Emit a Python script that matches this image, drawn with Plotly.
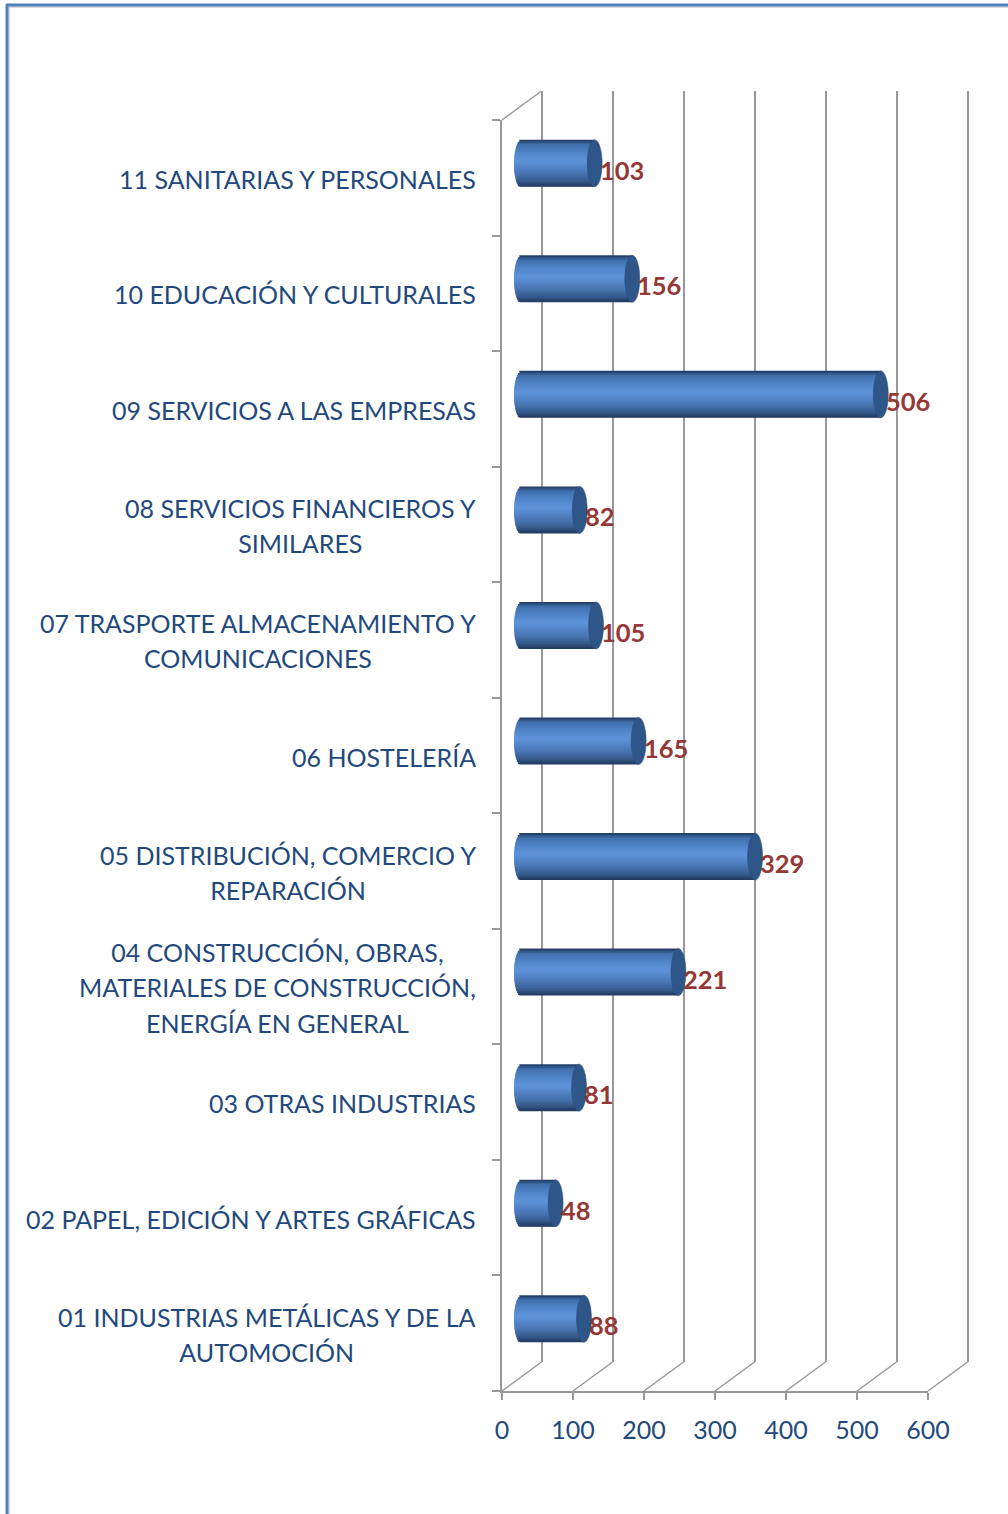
import plotly.graph_objects as go
import math

W, H = 1008, 1514
categories = [
    "01 INDUSTRIAS METÁLICAS Y DE LA<br>AUTOMOCIÓN",
    "02 PAPEL, EDICIÓN Y ARTES GRÁFICAS",
    "03 OTRAS INDUSTRIAS",
    "04 CONSTRUCCIÓN, OBRAS,<br>MATERIALES DE CONSTRUCCIÓN,<br>ENERGÍA EN GENERAL",
    "05 DISTRIBUCIÓN, COMERCIO Y<br>REPARACIÓN",
    "06 HOSTELERÍA",
    "07 TRASPORTE ALMACENAMIENTO Y<br>COMUNICACIONES",
    "08 SERVICIOS FINANCIEROS Y<br>SIMILARES",
    "09 SERVICIOS A LAS EMPRESAS",
    "10 EDUCACIÓN Y CULTURALES",
    "11 SANITARIAS Y PERSONALES",
]
values = [88, 48, 81, 221, 329, 165, 105, 82, 506, 156, 103]
x_ticks = [0, 100, 200, 300, 400, 500, 600]

TEXT = "#1F497D"
LABEL = "#953735"
GRID = "#989898"
FONT = "Lato"
LABEL_PX = 25.0
LINE_PX = 27.3

X0, X1 = 502.0, 928.0
Y_TOP, Y_BOT = 120.0, 1391.0
DX, DY = 39.5, 29.0
PXU = (X1 - X0) / 600.0
CX, CY = 19.5, 14.5
BAR_H = 47.0
RX = 7.5

def dom_x(a, b):
    return [a / W, b / W]

def dom_y(top, bot):
    return [(H - bot) / H, (H - top) / H]

grad_stops = [
    (0.00, (31, 53, 88)), (0.03, (40, 70, 114)), (0.10, (63, 111, 172)),
    (0.30, (83, 135, 204)), (0.45, (95, 147, 217)), (0.60, (82, 131, 198)),
    (0.75, (69, 112, 171)), (0.88, (53, 90, 140)), (0.96, (39, 67, 108)), (1.00, (31, 53, 88)),
]

def grad(t):
    t = 1 - t
    for (a, ca), (b, cb) in zip(grad_stops, grad_stops[1:]):
        if a <= t <= b:
            f = (t - a) / (b - a)
            return "rgb(%d,%d,%d)" % tuple(round(p + (q - p) * f) for p, q in zip(ca, cb))
    return "rgb(31,53,88)"

fig = go.Figure()

fig.add_trace(go.Scatter(x=[0], y=[categories[0]], mode="markers", marker_opacity=0,
                         xaxis="x", yaxis="y", showlegend=False, hoverinfo="skip"))

n_bands = 23
cat_px = (Y_BOT - Y_TOP) / len(categories)
w_cat = BAR_H / cat_px
rx_u = RX / PXU
overlap = 1.5 / cat_px
for i in range(n_bands - 1, -1, -1):
    t0 = i / n_bands
    mid = (i + 0.5) / n_bands
    s = math.sqrt(max(0.0, 1 - (2 * mid - 1) ** 2))
    b = -rx_u * s
    ov = overlap if i > 0 else 0
    fig.add_trace(go.Bar(
        x=[v - b for v in values], y=categories, base=b, orientation="h",
        width=w_cat / n_bands + ov, offset=-w_cat / 2 + t0 * w_cat - ov,
        marker=dict(color=grad(mid), line_width=0),
        xaxis="x2", yaxis="y2", showlegend=False, hoverinfo="skip",
    ))

fig.add_trace(go.Scatter(x=[0], y=[categories[0]], mode="markers", marker_opacity=0,
                         xaxis="x3", yaxis="y3", showlegend=False, hoverinfo="skip"))

shapes = []
shapes.append(dict(type="line", xref="paper", yref="paper", x0=9 / W, x1=1, y0=1 - 7 / H, y1=1 - 7 / H,
                   line=dict(color="#B4B4B4", width=1), layer="below"))
shapes.append(dict(type="line", xref="paper", yref="paper", x0=9 / W, x1=9 / W, y0=0, y1=1 - 7 / H,
                   line=dict(color="#B4B4B4", width=1), layer="below"))
shapes.append(dict(type="line", xref="paper", yref="paper", x0=6 / W, x1=1, y0=1 - 5 / H, y1=1 - 5 / H,
                   line=dict(color="#4F81BD", width=3), layer="below"))
shapes.append(dict(type="line", xref="paper", yref="paper", x0=7 / W, x1=7 / W, y0=0, y1=1 - 4 / H,
                   line=dict(color="#4F81BD", width=3), layer="below"))
# x2 spans the whole page, so the floor diagonals are anchored there (tick value shifted by the bar-plane offset)
for t in x_ticks:
    shapes.append(dict(type="line", xref="x2", yref="paper", xsizemode="pixel", ysizemode="pixel",
                       xanchor=t - CX / PXU, yanchor=(H - Y_BOT) / H, x0=0, x1=DX, y0=0, y1=DY,
                       line=dict(color=GRID, width=1.5), layer="below"))
shapes.append(dict(type="line", xref="x2", yref="paper", xsizemode="pixel", ysizemode="pixel",
                   xanchor=-CX / PXU, yanchor=(H - Y_TOP) / H, x0=0, x1=DX, y0=0, y1=DY,
                   line=dict(color=GRID, width=1.5), layer="below"))
for i, v in enumerate(values):
    shapes.append(dict(type="circle", xref="x2", yref="y2", x0=v - rx_u, x1=v + rx_u,
                       y0=i - w_cat / 2, y1=i + w_cat / 2,
                       fillcolor="#2F5688", line=dict(color="#2A4E7C", width=0.5), layer="above"))

annotations = []
label_x = (477.5 - (X0 + CX)) / PXU
for i, c in enumerate(categories):
    annotations.append(dict(
        text=f'<span style="font-size:{LABEL_PX}px">{c}</span>'.replace(
            "<br>", f'</span><br><span style="font-size:{LABEL_PX}px">'),
        xref="x2", yref="y3", x=label_x, y=c, yshift=-1,
        xanchor="right", yanchor="middle", align="center", showarrow=False,
        font=dict(family=FONT, size=LINE_PX, color=TEXT)))
for c, v in zip(categories, values):
    annotations.append(dict(
        text=str(v), xref="x2", yref="y2", x=v, y=c, xanchor="left", yanchor="middle",
        xshift=3, yshift=-6.5, showarrow=False,
        font=dict(family=FONT, size=25.5, color=LABEL, weight="bold")))

base_y = dict(type="category", categoryorder="array", categoryarray=categories, range=[-0.5, 10.5],
              automargin=False)

gpad = 2
fig.update_layout(
    width=W, height=H, margin=dict(l=0, r=0, t=0, b=0),
    paper_bgcolor="white", plot_bgcolor="rgba(0,0,0,0)",
    barmode="overlay", showlegend=False, font=dict(family=FONT, color=TEXT),
    xaxis=dict(domain=dom_x(X0 + DX - gpad * PXU, X1 + DX + gpad * PXU), range=[-gpad, 600 + gpad],
               tickvals=x_ticks, showgrid=True, automargin=False,
               gridcolor=GRID, gridwidth=2, showticklabels=False, ticks="", zeroline=False,
               showline=False, anchor="y"),
    yaxis=dict(domain=dom_y(Y_TOP - DY, Y_BOT - DY), showticklabels=False, ticks="", showgrid=False,
               showline=False, zeroline=False, anchor="x", **base_y),
    xaxis2=dict(domain=[0, 1], range=[-(X0 + CX) / PXU, (W - X0 - CX) / PXU], visible=False,
                anchor="y2", automargin=False),
    yaxis2=dict(domain=dom_y(Y_TOP - CY, Y_BOT - CY), visible=False, anchor="x2", **base_y),
    xaxis3=dict(domain=dom_x(X0, X1), range=[0, 600], tickvals=x_ticks, ticks="outside", ticklen=7,
                tickwidth=2, tickcolor=GRID, showline=True, linecolor=GRID, linewidth=2,
                showgrid=False, zeroline=False, anchor="y3", automargin=False, ticklabelstandoff=9,
                tickfont=dict(family=FONT, size=LABEL_PX, color=TEXT)),
    yaxis3=dict(domain=dom_y(Y_TOP, Y_BOT), showticklabels=False, ticks="outside", ticklen=8,
                tickwidth=2, tickcolor=GRID, tickson="boundaries", showline=True, linecolor=GRID,
                linewidth=2, showgrid=False, zeroline=False, anchor="x3", **base_y),
    shapes=shapes, annotations=annotations,
)
fig.write_html("out.html", config=dict(responsive=False, displayModeBar=False),
               post_script="document.body.style.margin='0';document.documentElement.style.overflow='hidden';")
